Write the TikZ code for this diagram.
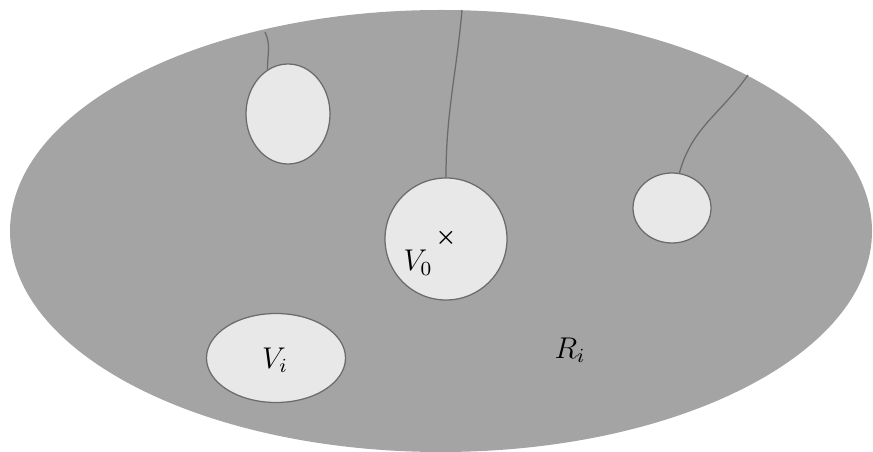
\documentclass[tikz,border=0pt]{standalone}
\usepackage{amsmath,amssymb}
\usetikzlibrary{shapes.geometric}
\definecolor{regiongray}{gray}{0.645}
\definecolor{holegray}{gray}{0.91}
\definecolor{edgegray}{gray}{0.42}

\begin{document}
\begin{tikzpicture}[x=0.4pt,y=-0.4pt,
  every node/.style={font=\large},
  region/.style={ellipse,fill=regiongray,inner sep=0pt},
  hole/.style={ellipse,draw=edgegray,fill=holegray,line width=0.5pt,inner sep=0pt},
  cut/.style={draw=edgegray,line width=0.5pt}]
\useasboundingbox (0,0) rectangle (873,452);
\node[region,minimum width=344.8pt,minimum height=176.8pt] (R) at (441,231) {};
\node[hole,minimum width=33.6pt,minimum height=40pt] (a) at (288,114) {};
\node[hole,minimum width=48.8pt,minimum height=48.8pt] (v0) at (446,239) {};
\node[hole,minimum width=31.2pt,minimum height=28pt] (b) at (672,208) {};
\node[hole,minimum width=55.6pt,minimum height=35.6pt] (vi) at (276,358) {};
\coordinate (ta) at (265,32);
\coordinate (tv) at (462,10);
\coordinate (tb) at (748,75);
\node[font=\small] (x) at (446,238) {$\boldsymbol{\times}$};
\node (l0) at (418,263) {$V_0$};
\node (li) at (275,360) {$V_i$};
\node (lr) at (570,350) {$R_i$};
\draw[cut] (ta) to[out=-65,in=90] (a.115);
\draw[cut] (tv) to[out=-95,in=90] (v0.north);
\draw[cut] (tb) to[out=-125,in=75] (b.78);
\end{tikzpicture}
\end{document}
